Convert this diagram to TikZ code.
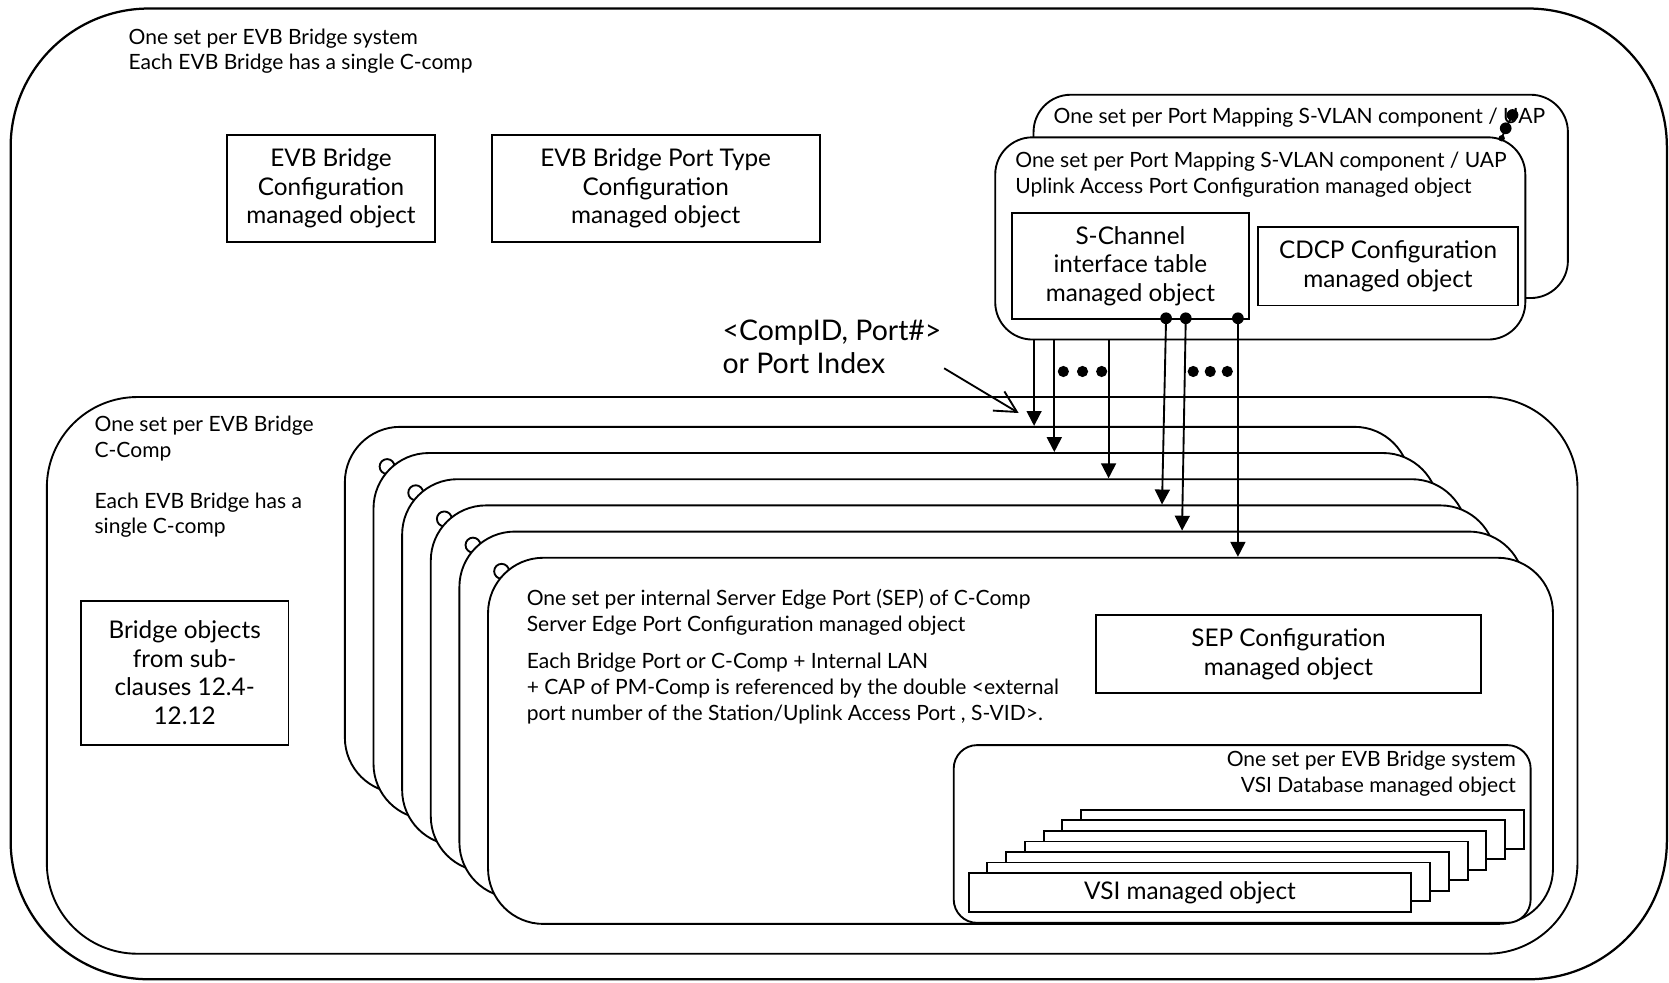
\documentclass[tikz,border=0pt]{standalone}
\usepackage{fontspec}
\setmainfont{Lato}
\usetikzlibrary{arrows.meta, positioning, calc}

\newcommand{\px}{0.2mm}

\begin{document}
\begin{tikzpicture}[
    x=0.2mm, y=-0.2mm,
    line width=1pt,
    % ── Node styles ──────────────────────────────────────────────────────
    note/.style={
        inner sep=0pt, anchor=west, align=left,
        font=\fontsize{11.25}{13.8}\selectfont
    },
    objbox/.style={
        draw, fill=white, inner sep=0pt, align=center,
        font=\fontsize{13}{15.4}\selectfont
    },
    setbox/.style={
        draw, fill=white, inner sep=0pt
    },
    sepcopy/.style={
        setbox, rounded corners=10.4mm,
        minimum width=1000.5*\px, minimum height=344*\px
    },
    vsicopy/.style={
        objbox, minimum width=416*\px, minimum height=36.4*\px
    },
    joint/.style={
        circle, fill, inner sep=0pt, minimum size=11*\px
    },
    % ── Arrow styles ─────────────────────────────────────────────────────
    feed/.style={
        -{Triangle[length=2.8mm, width=2.8mm]}, line width=1pt
    },
    pointer/.style={
        -{Straight Barb[length=4mm, width=4.2mm]}, line width=1pt
    }
]
\useasboundingbox (0,0) rectangle (1568,923);

% ═══════════════════════════════════════════════════════════════════════════
% EVB Bridge system
% ═══════════════════════════════════════════════════════════════════════════
\node[setbox, rounded corners=26mm, line width=1.2pt,
      minimum width=1556*\px, minimum height=912*\px] (system) at (788,464) {};
\node[note] (systxt) at (120,48)
    {One set per EVB Bridge system\\Each EVB Bridge has a single C-comp};

\node[objbox, minimum width=196*\px, minimum height=100*\px] (bridgecfg)
    at (311,177) {EVB Bridge\\Configuration\\managed object};
\node[objbox, minimum width=308*\px, minimum height=100*\px] (porttype)
    at (616,177) {EVB Bridge Port Type\\Configuration\\managed object};

% Reference label
\node[note, font=\fontsize{15.2}{17.6}\selectfont] (portref) at (678,326)
    {<CompID, Port\#>\\or Port Index};

% ═══════════════════════════════════════════════════════════════════════════
% C-Comp
% ═══════════════════════════════════════════════════════════════════════════
\node[setbox, rounded corners=17mm,
      minimum width=1438*\px, minimum height=523*\px] (ccomp) at (763,634.5) {};
\node[note] (cctxt) at (88,412) {One set per EVB Bridge\\C-Comp};
\node[note, below=28*\px of cctxt.south west, anchor=north west] (cctxtb)
    {Each EVB Bridge has a\\single C-comp};

\node[objbox, minimum width=195*\px, minimum height=135*\px] (bridgeobj)
    at (173.5,632) {Bridge objects\\from sub-\\clauses 12.4-\\12.12};

% Stack of SEP sets, back to front
\foreach \k in {0,...,5}{
    \pgfmathsetmacro{\cx}{824.25+26.9*\k}
    \pgfmathsetmacro{\cy}{573+24.6*\k}
    \ifnum\k>0
        \draw[fill=white] ($(\cx,\cy)+(-487.5,-159.3)$) circle (1.4mm);
    \fi
    \node[sepcopy] (sep\k) at (\cx,\cy) {};
}

% Front SEP set
\node[note] (septxt) at (494,575)
    {One set per internal Server Edge Port (SEP) of C-Comp\\
     Server Edge Port Configuration managed object};
\node[note, font=\fontsize{11.25}{13.9}\selectfont] (septxtb) at (494,647)
    {Each Bridge Port or C-Comp + Internal LAN\\
     + CAP of PM-Comp is referenced by the double <external\\
     port number of the Station/Uplink Access Port , S-VID>.};
\node[objbox, minimum width=361*\px, minimum height=73*\px] (sepcfg)
    at (1210.5,614.5) {SEP Configuration\\managed object};

% VSI database
\node[setbox, rounded corners=4.4mm,
      minimum width=542*\px, minimum height=167*\px] (vsidb) at (1167,783.5) {};
\node[note, anchor=east, align=right] (vsitxt) at (1425,727)
    {One set per EVB Bridge system\\VSI Database managed object};
\foreach \k in {6,...,1}{
    \node[vsicopy] (vsi\k) at ({1118+17.6*\k},{838.4-9.9*\k}) {};
}
\node[vsicopy] (vsi0) at (1118,838.4) {VSI managed object};

% ═══════════════════════════════════════════════════════════════════════════
% Port Mapping S-VLAN component / UAP
% ═══════════════════════════════════════════════════════════════════════════
\node[setbox, rounded corners=7mm,
      minimum width=502*\px, minimum height=191*\px] (uapback) at (1222,184.5) {};
\node[note] (uapbtxt) at (989,111)
    {One set per Port Mapping S-VLAN component / UAP};
\node[setbox, rounded corners=7mm,
      minimum width=498*\px, minimum height=190*\px] (uap) at (1184,224) {};
\node[note] (uaptxt) at (953,164)
    {One set per Port Mapping S-VLAN component / UAP\\
     Uplink Access Port Configuration managed object};

\node[objbox, minimum width=222*\px, minimum height=100*\px] (schan)
    at (1062,250) {S-Channel\\interface table\\managed object};
\node[objbox, minimum width=244*\px, minimum height=74*\px] (cdcp)
    at (1304,250) {CDCP Configuration\\managed object};

% Stray joint over "UAP"
\node[joint] (ja) at (1421,108) {};
\node[joint] (jb) at (1414.6,120.5) {};
\node[joint, minimum size=6*\px] (jc) at (1410.8,129.9) {};
\draw (jc.center) -- (jb.center) -- (ja.center);

% Joints on the S-Channel table
\node[joint] (sd1) at (1095.5,299) {};
\node[joint] (sd2) at (1114,299) {};
\node[joint] (sd3) at (1163,299) {};

% ═══════════════════════════════════════════════════════════════════════════
% Arrows
% ═══════════════════════════════════════════════════════════════════════════
\draw[feed] (971.5,0 |- uap.south)  -- (971.5,0 |- sep0.north);
\draw[feed] (990.5,0 |- uap.south)  -- (990.5,0 |- sep1.north);
\draw[feed] (1041.5,0 |- uap.south) -- (1041.5,0 |- sep2.north);
\draw[feed] (sd1.center) -- (1091.7,0 |- sep3.north);
\draw[feed] (sd2.center) -- (1110.5,0 |- sep4.north);
\draw[feed] (sd3.center) -- (1163,0 |- sep5.north);

% Ellipses between the arrows
\foreach \dx in {999,1017,1035,1121,1137,1153}
    \fill (\dx,349) circle (1.05mm);

\coordinate (ptail) at (887,346);
\coordinate (ptip)  at (957,388);
\draw[pointer] (ptail) -- (ptip);

\end{tikzpicture}
\end{document}
